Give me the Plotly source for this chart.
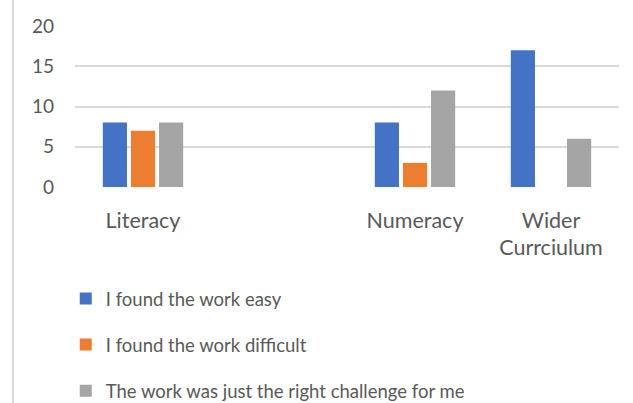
import plotly.graph_objects as go

# categories (the second one is an empty slot in the original sheet)
categories = ["Literacy", "", "Numeracy", "Wider<br>Currciulum"]
easy = [8, None, 8, 17]
difficult = [7, None, 3, 0]
right_challenge = [8, None, 12, 6]

series = [
    ("I found the work easy", easy, "#4472C4"),
    ("I found the work difficult", difficult, "#ED7D31"),
    ("The work was just the right challenge for me", right_challenge, "#A5A5A5"),
]

FONT = "Lato, Open Sans, sans-serif"
GREY_TXT = "#595959"
PLOT_H = 403 - 26 - 216
PLOT_W = 633 - 77 - 12

fig = go.Figure()
xs = list(range(len(categories)))
for i, (name, vals, col) in enumerate(series):
    fig.add_trace(go.Bar(
        x=xs, y=vals, name=name, marker_color=col,
        marker_line_width=0, legendgroup="g%d" % i,
    ))

fig.update_layout(
    width=633, height=403,
    paper_bgcolor="white", plot_bgcolor="white",
    margin=dict(l=75, r=14, t=26, b=216, autoexpand=False),
    barmode="group", bargap=0.38, bargroupgap=0.14,
    font=dict(family=FONT, size=18, color=GREY_TXT),
    showlegend=True,
    legend=dict(
        x=-0.017, xanchor="left", y=-93 / PLOT_H, yanchor="top",
        orientation="v", tracegroupgap=19,
        font=dict(family=FONT, size=18.5, color=GREY_TXT),
        bgcolor="rgba(0,0,0,0)",
    ),
    shapes=[dict(type="line", xref="paper", yref="paper",
                 x0=-62 / PLOT_W, x1=-62 / PLOT_W,
                 y0=-216 / PLOT_H, y1=1 + 26 / PLOT_H,
                 line=dict(color="#D9D9D9", width=2))],
)
fig.update_xaxes(
    tickvals=xs, ticktext=categories, range=[-0.5, 3.5],
    showgrid=False, zeroline=False, showline=False, ticks="",
    ticklabelstandoff=18, tickfont=dict(size=21.5),
)
fig.update_yaxes(
    range=[0, 20], dtick=5, showgrid=True, gridcolor="#D9D9D9", gridwidth=1.5,
    zeroline=False, showline=False, ticks="", ticklabelstandoff=20,
    tickfont=dict(size=19),
)

# drop the browser's default body margin so the figure sits at the page corner
fig.write_html("out.html", config={"displayModeBar": False},
               post_script="document.body.style.margin='0px';")
